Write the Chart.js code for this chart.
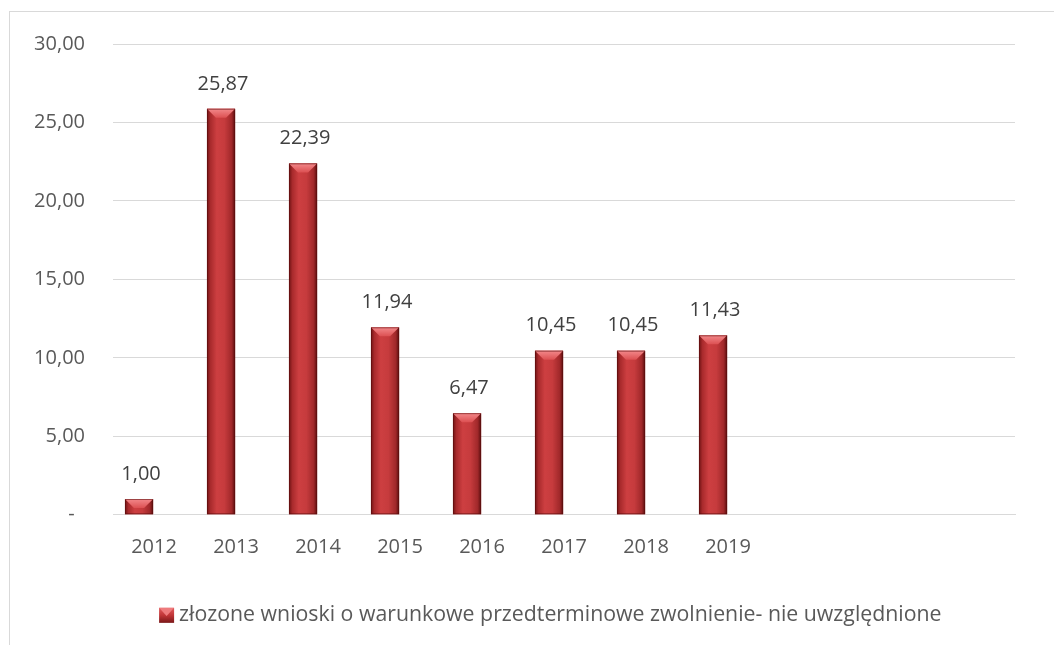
<!DOCTYPE html>
<html>
<head>
<meta charset="utf-8">
<script src="https://cdn.jsdelivr.net/npm/chart.js@4.4.1/dist/chart.umd.min.js"></script>
<style>
  html, body { margin: 0; padding: 0; background: #ffffff; overflow: hidden; width: 1054px; height: 645px; }
  #box { position: absolute; left: 9px; top: 11px; width: 1077px; height: 650px; border-left: 1px solid #d9d9d9; border-top: 1px solid #d9d9d9; box-sizing: border-box; }
  #wrap { position: absolute; left: 9px; top: 4px; width: 1077px; height: 650px; }
</style>
</head>
<body>
<div id="box"></div>
<div id="wrap"><canvas id="c" width="1077" height="650"></canvas></div>
<script>
const categories = ['2012', '2013', '2014', '2015', '2016', '2017', '2018', '2019', '', '', ''];
const values = [1.00, 25.87, 22.39, 11.94, 6.47, 10.45, 10.45, 11.43, null, null, null];
const seriesName = 'złozone wnioski o warunkowe przedterminowe zwolnienie- nie uwzględnione';
const yTicks = [0, 5, 10, 15, 20, 25, 30];

const FONT = '"Open Sans", sans-serif';
const TXT = '#595959';

function fmt(v) {
  if (v === 0) return '-  ';
  return v.toFixed(2).replace('.', ',');
}

function drawBevelBar(ctx, x, y, base, w) {
  const l = x - w / 2, r = x + w / 2, t = Math.min(y, base), b = Math.max(y, base);
  const h = b - t;
  if (h <= 0) return;
  const g = ctx.createLinearGradient(l, 0, r, 0);
  g.addColorStop(0, '#6e1213');
  g.addColorStop(0.12, '#a82a2c');
  g.addColorStop(0.35, '#cd3f41');
  g.addColorStop(0.62, '#c63b3d');
  g.addColorStop(0.88, '#a0282a');
  g.addColorStop(1, '#5a0d0e');
  ctx.fillStyle = g;
  ctx.fillRect(l, t, w, h);
  const bv = Math.min(w * 0.32, h * 0.6, 9.5);
  const g2 = ctx.createLinearGradient(0, t, 0, t + bv);
  g2.addColorStop(0, '#f3898b');
  g2.addColorStop(1, '#dc5052');
  ctx.fillStyle = g2;
  ctx.beginPath();
  ctx.moveTo(l, t);
  ctx.lineTo(r, t);
  ctx.lineTo(r - bv, t + bv);
  ctx.lineTo(l + bv, t + bv);
  ctx.closePath();
  ctx.fill();
  ctx.strokeStyle = 'rgba(90,12,12,0.55)';
  ctx.lineWidth = 1;
  ctx.strokeRect(l + 0.5, t + 0.5, w - 1, h - 1);
}

const bevelPlugin = {
  id: 'bevel',
  afterDatasetsDraw(chart) {
    const ctx = chart.ctx;
    const meta = chart.getDatasetMeta(0);
    ctx.save();
    meta.data.forEach((el, i) => {
      if (values[i] === null) return;
      const p = el.getProps(['x', 'y', 'base', 'width'], true);
      drawBevelBar(ctx, p.x, p.y, p.base, p.width);
      ctx.fillStyle = '#404040';
      ctx.font = '20px ' + FONT;
      ctx.textAlign = 'center';
      ctx.textBaseline = 'middle';
      ctx.fillText(fmt(values[i]), p.x + 2, p.y - 25);
    });
    ctx.restore();
  },
  afterDraw(chart) {
    const lg = chart.legend;
    if (!lg || !lg.legendHitBoxes || !lg.legendHitBoxes.length) return;
    const hb = lg.legendHitBoxes[0];
    const bw = lg.options.labels.boxWidth, bh = lg.options.labels.boxHeight;
    const fs = lg.options.labels.font.size;
    const ctx = chart.ctx;
    const top = hb.top + (hb.height - bh) / 2;
    ctx.save();
    ctx.fillStyle = '#ffffff';
    ctx.fillRect(hb.left - 1, top - 1, bw + 2, bh + 2);
    const textX = hb.left + bw + fs / 2;
    const left = textX - 5 - bw;
    const g = ctx.createLinearGradient(0, top, 0, top + bh);
    g.addColorStop(0, '#e05a5c');
    g.addColorStop(0.5, '#c03537');
    g.addColorStop(1, '#7a1718');
    ctx.fillStyle = g;
    ctx.fillRect(left, top, bw, bh);
    ctx.fillStyle = '#ee7b7d';
    ctx.beginPath();
    ctx.moveTo(left, top);
    ctx.lineTo(left + bw, top);
    ctx.lineTo(left + bw / 2, top + bh * 0.55);
    ctx.closePath();
    ctx.fill();
    ctx.restore();
  }
};

new Chart(document.getElementById('c'), {
  type: 'bar',
  data: {
    labels: categories,
    datasets: [
      { label: seriesName, data: values, backgroundColor: '#c0393b', borderWidth: 0 },
      { label: '_spacer', data: categories.map(() => null), backgroundColor: 'rgba(0,0,0,0)' }
    ]
  },
  options: {
    responsive: false,
    animation: false,
    devicePixelRatio: 1,
    categoryPercentage: 0.73,
    barPercentage: 0.94,
    layout: { padding: { left: 0, right: 0, top: 14, bottom: 18 } },
    plugins: {
      tooltip: { enabled: false },
      legend: {
        position: 'bottom',
        labels: {
          filter: (item) => item.datasetIndex === 0,
          font: { family: FONT, size: 21.3 },
          color: TXT,
          boxWidth: 15,
          boxHeight: 15,
          padding: 10
        }
      }
    },
    scales: {
      x: {
        grid: { display: false, drawTicks: false },
        border: { display: true, color: '#d9d9d9', width: 1 },
        ticks: { font: { family: FONT, size: 20 }, color: TXT, padding: 21, maxRotation: 0, autoSkip: false },
        afterFit: (s) => { s.height = 80; }
      },
      y: {
        min: 0, max: 30,
        afterBuildTicks: (s) => { s.ticks = yTicks.map(v => ({ value: v })); },
        grid: { color: '#d9d9d9', drawTicks: false, lineWidth: 1 },
        border: { display: false },
        ticks: { font: { family: FONT, size: 20 }, color: TXT, padding: 28, callback: (v) => fmt(v) },
        afterFit: (s) => { s.width = 104; }
      },
      yRight: {
        position: 'right',
        min: 0, max: 30,
        grid: { display: false, drawTicks: false },
        border: { display: false },
        ticks: { display: false },
        afterFit: (s) => { s.width = 71; }
      }
    }
  },
  plugins: [bevelPlugin]
});
</script>
</body>
</html>
